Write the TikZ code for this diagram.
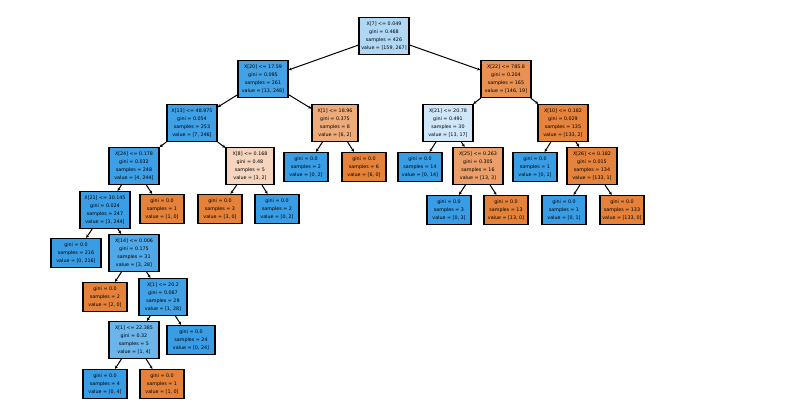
\documentclass[tikz,border=0pt]{standalone}
\usepackage{fontspec}
\setmainfont{DejaVu Sans}
\usetikzlibrary{arrows.meta}
\definecolor{cb}{RGB}{57,157,229}
\definecolor{co}{RGB}{229,129,57}
\tikzset{
  tn/.style={draw=black, line width=1.2pt, align=center, inner sep=1.5pt,
    font=\fontsize{4.8}{8.2}\selectfont, minimum width=44pt, minimum height=29pt},
  sn/.style={tn, minimum width=50pt, minimum height=37pt},
  edge/.style={line width=1pt, -{Stealth[length=3.2pt,width=3pt]}}
}
\begin{document}
\begin{tikzpicture}[x=1pt,y=-1pt]
\useasboundingbox[fill=white] (0,0) rectangle (788,418);
% level 0
\node[sn, fill=cb!40!white] (r) at (384,36) {X[7] <= 0.049\\gini = 0.468\\samples = 426\\value = [159, 267]};
% level 1
\node[sn, fill=cb!95!white] (a) at (263,79) {X[20] <= 17.59\\gini = 0.095\\samples = 261\\value = [13, 248]};
\node[sn, fill=co!87!white] (b) at (506,79) {X[22] <= 785.8\\gini = 0.204\\samples = 165\\value = [146, 19]};
% level 2
\node[sn, fill=cb!97!white] (c) at (192,123) {X[13] <= 48.975\\gini = 0.054\\samples = 253\\value = [7, 246]};
\node[sn, fill=co!67!white, minimum width=46pt] (j) at (335,123) {X[1] <= 18.96\\gini = 0.375\\samples = 8\\value = [6, 2]};
\node[sn, fill=cb!24!white] (k) at (448,123) {X[21] <= 20.78\\gini = 0.491\\samples = 30\\value = [13, 17]};
\node[sn, fill=co!98!white] (l) at (563,123) {X[10] <= 0.182\\gini = 0.029\\samples = 135\\value = [133, 2]};
% level 3
\node[sn, fill=cb!98!white] (d) at (134,166) {X[24] <= 0.178\\gini = 0.032\\samples = 248\\value = [4, 244]};
\node[sn, fill=co!33!white, minimum width=48pt] (i) at (250,166) {X[8] <= 0.168\\gini = 0.48\\samples = 5\\value = [3, 2]};
\node[tn, fill=cb] (j1) at (306,167) {gini = 0.0\\samples = 2\\value = [0, 2]};
\node[tn, fill=co] (j2) at (364,167) {gini = 0.0\\samples = 6\\value = [6, 0]};
\node[tn, fill=cb] (k1) at (420,167) {gini = 0.0\\samples = 14\\value = [0, 14]};
\node[sn, fill=co!77!white] (m) at (478,166) {X[25] <= 0.263\\gini = 0.305\\samples = 16\\value = [13, 3]};
\node[tn, fill=cb] (l1) at (535,167) {gini = 0.0\\samples = 1\\value = [0, 1]};
\node[sn, fill=co!99!white] (n) at (592,166) {X[26] <= 0.182\\gini = 0.015\\samples = 134\\value = [133, 1]};
% level 4
\node[sn, fill=cb!99!white] (e) at (105,210) {X[21] <= 30.145\\gini = 0.024\\samples = 247\\value = [3, 244]};
\node[tn, fill=co] (d2) at (162,209) {gini = 0.0\\samples = 1\\value = [1, 0]};
\node[tn, fill=co] (i1) at (220,209) {gini = 0.0\\samples = 3\\value = [3, 0]};
\node[tn, fill=cb] (i2) at (277,209) {gini = 0.0\\samples = 2\\value = [0, 2]};
\node[tn, fill=cb] (m1) at (449,210) {gini = 0.0\\samples = 3\\value = [0, 3]};
\node[tn, fill=co] (m2) at (506,210) {gini = 0.0\\samples = 13\\value = [13, 0]};
\node[tn, fill=cb] (n1) at (564,210) {gini = 0.0\\samples = 1\\value = [0, 1]};
\node[tn, fill=co] (n2) at (622,210) {gini = 0.0\\samples = 133\\value = [133, 0]};
% level 5
\node[tn, fill=cb, minimum width=50pt] (e1) at (76,253) {gini = 0.0\\samples = 216\\value = [0, 216]};
\node[sn, fill=cb!89!white] (f) at (134,253) {X[14] <= 0.006\\gini = 0.175\\samples = 31\\value = [3, 28]};
% level 6
\node[tn, fill=co] (f1) at (105,297) {gini = 0.0\\samples = 2\\value = [2, 0]};
\node[sn, fill=cb!96!white, minimum width=48pt] (g) at (163,297) {X[1] <= 20.2\\gini = 0.067\\samples = 29\\value = [1, 28]};
% level 7
\node[sn, fill=cb!75!white] (h) at (134,340) {X[1] <= 22.385\\gini = 0.32\\samples = 5\\value = [1, 4]};
\node[tn, fill=cb, minimum width=48pt] (g2) at (191,340) {gini = 0.0\\samples = 24\\value = [0, 24]};
% level 8
\node[tn, fill=cb] (h1) at (105,384) {gini = 0.0\\samples = 4\\value = [0, 4]};
\node[tn, fill=co] (h2) at (162,384) {gini = 0.0\\samples = 1\\value = [1, 0]};
% edges
\foreach \p/\c in {r/a,r/b,a/c,a/j,b/k,b/l,c/d,c/i,j/j1,j/j2,k/k1,k/m,l/l1,l/n,
  d/e,d/d2,i/i1,i/i2,m/m1,m/m2,n/n1,n/n2,e/e1,e/f,f/f1,f/g,g/h,g/g2,h/h1,h/h2}
  \draw[edge] (\p) -- (\c);
\end{tikzpicture}
\end{document}
